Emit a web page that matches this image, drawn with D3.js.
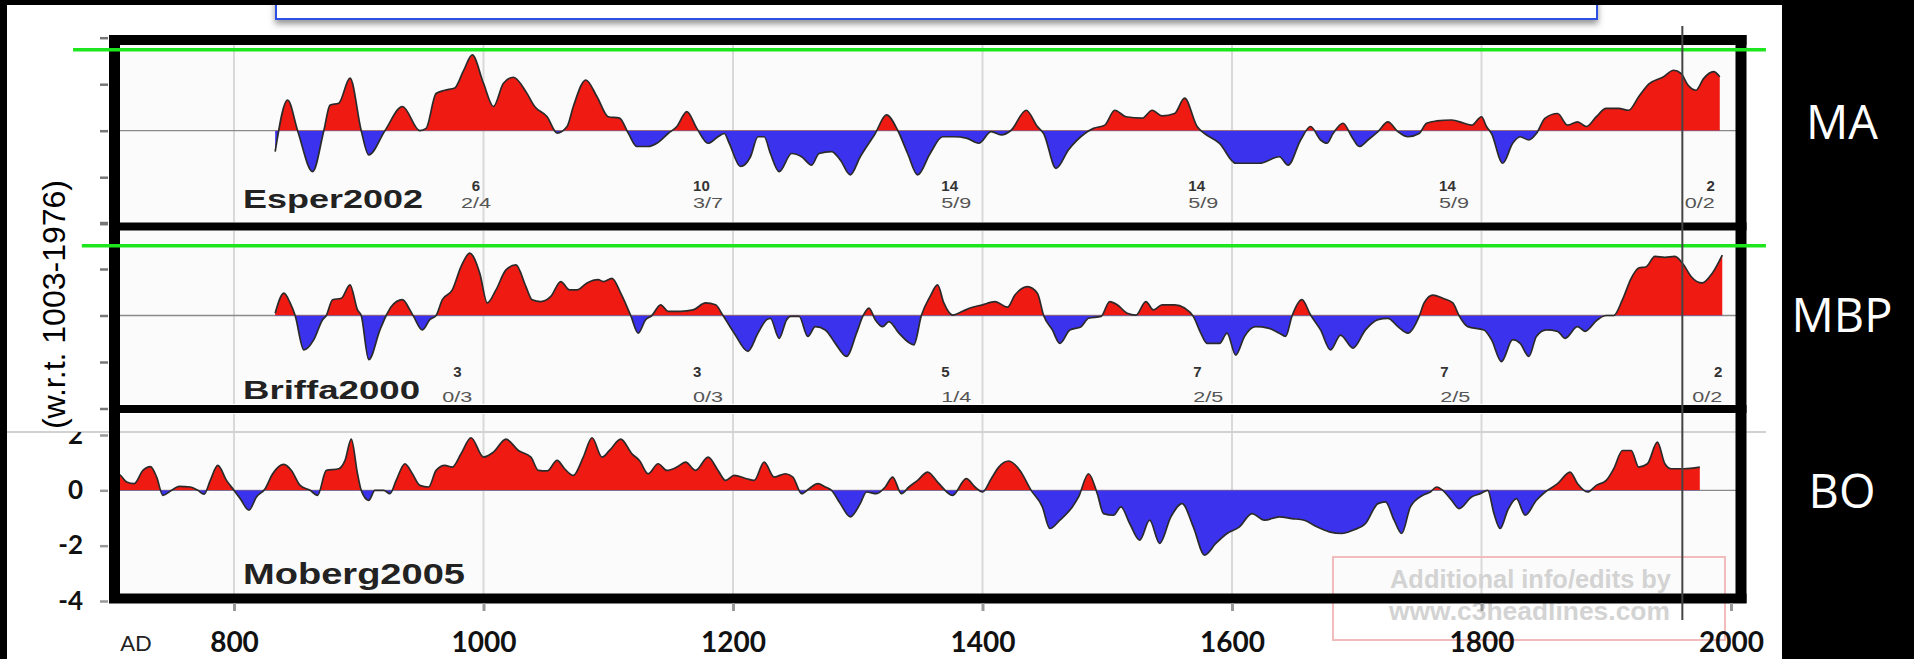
<!DOCTYPE html>
<html>
<head>
<meta charset="utf-8">
<script src="https://cdnjs.cloudflare.com/ajax/libs/d3/7.8.5/d3.min.js"></script>
<style>
  html, body { margin: 0; padding: 0; background: #000; }
  svg { display: block; }
</style>
</head>
<body>
<svg id="chart"></svg>
<script>
// ---- data: [year, anomaly] ----
var esper2002 = [
  [833,-0.45],[843,0.66],[851,0],[863,-0.88],[872,0],[877,0.55],[884,0.59],[893,1.13],[902,0],[908,-0.52],
  [921,0],[935,0.52],[949,0],[954,0.05],[962,0.8],[969,0.87],[977,0.92],[984,1.29],[991,1.63],[1000,1.02],
  [1008,0.52],[1016,1.02],[1024,1.15],[1034,0.84],[1041,0.52],[1051,0.3],[1059,-0.05],[1067,0.09],[1072,0.52],
  [1082,1.09],[1091,0.73],[1100,0.3],[1109,0.27],[1116,-0.05],[1123,-0.34],[1132,-0.34],[1139,-0.27],[1148,-0.06],
  [1155,0.09],[1163,0.41],[1171,0.05],[1180,-0.27],[1188,-0.13],[1193,-0.06],[1197,-0.27],[1206,-0.77],[1214,-0.56],
  [1220,-0.13],[1225,-0.13],[1230,-0.49],[1237,-0.88],[1247,-0.49],[1255,-0.56],[1263,-0.74],[1269,-0.49],[1279,-0.45],
  [1286,-0.63],[1294,-0.95],[1302,-0.56],[1314,-0.06],[1323,0.34],[1332,0.01],[1340,-0.49],[1348,-0.95],[1358,-0.49],
  [1368,-0.13],[1377,-0.13],[1387,-0.16],[1397,-0.27],[1407,-0.02],[1415,-0.09],[1423,0.01],[1435,0.44],[1444,0.09],
  [1449,-0.06],[1459,-0.81],[1469,-0.41],[1482,-0.06],[1489,0.05],[1498,0.12],[1506,0.44],[1515,0.3],[1528,0.27],
  [1536,0.44],[1544,0.32],[1554,0.37],[1562,0.7],[1572,0.09],[1578,-0.06],[1590,-0.27],[1603,-0.7],[1622,-0.7],
  [1638,-0.56],[1645,-0.74],[1655,-0.2],[1663,0.09],[1671,-0.2],[1676,-0.27],[1681,-0.06],[1689,0.16],[1696,-0.13],
  [1702,-0.34],[1709,-0.2],[1717,-0.02],[1725,0.19],[1733,-0.02],[1741,-0.13],[1750,-0.06],[1756,0.16],[1764,0.21],
  [1776,0.23],[1786,0.16],[1792,0.12],[1800,0.3],[1804,0.09],[1808,-0.06],[1817,-0.7],[1825,-0.27],[1831,-0.13],
  [1838,-0.2],[1844,-0.06],[1851,0.27],[1861,0.37],[1869,0.12],[1877,0.19],[1884,0.09],[1892,0.3],[1900,0.48],
  [1910,0.48],[1918,0.44],[1926,0.73],[1934,1.0],[1946,1.16],[1954,1.3],[1960,1.23],[1965,1.0],[1972,0.87],
  [1978,1.12],[1986,1.27],[1991,1.16]
];

var briffa2000 = [
  [833,0.05],[840,0.48],[845,0.27],[849,0],[856,-0.74],[864,-0.52],[871,-0.09],[874,0],[879,0.34],[886,0.37],
  [893,0.66],[899,0.12],[902,0],[908,-0.95],[917,-0.31],[922,0],[926,0.19],[935,0.34],[941,0.12],[944,-0.02],
  [951,-0.31],[957,-0.09],[962,0],[967,0.34],[975,0.55],[982,1.05],[989,1.34],[997,0.91],[1003,0.27],[1010,0.55],
  [1018,0.98],[1026,1.09],[1034,0.62],[1039,0.34],[1046,0.3],[1054,0.41],[1062,0.73],[1069,0.55],[1075,0.55],
  [1083,0.7],[1092,0.77],[1096,0.73],[1103,0.8],[1110,0.48],[1118,0],[1124,-0.38],[1130,-0.09],[1135,0],
  [1142,0.23],[1148,0.09],[1158,0.09],[1168,0.12],[1178,0.27],[1186,0.23],[1192,0],[1201,-0.38],[1212,-0.77],
  [1220,-0.38],[1227,-0.09],[1230,-0.06],[1237,-0.49],[1243,-0.09],[1246,-0.02],[1253,-0.02],[1260,-0.45],
  [1266,-0.24],[1274,-0.31],[1282,-0.6],[1291,-0.88],[1299,-0.38],[1304,-0.02],[1309,0.16],[1314,-0.09],
  [1320,-0.24],[1325,-0.13],[1333,-0.38],[1345,-0.63],[1351,0],[1358,0.41],[1364,0.66],[1369,0.27],[1376,0.01],
  [1384,0.09],[1390,0.16],[1400,0.23],[1410,0.3],[1420,0.18],[1426,0.44],[1436,0.62],[1444,0.48],[1449,0],
  [1456,-0.31],[1462,-0.6],[1470,-0.31],[1479,-0.24],[1485,-0.06],[1495,-0.02],[1502,0.3],[1508,0.23],[1516,0.05],
  [1523,0.01],[1531,0.3],[1537,0.12],[1544,0.23],[1554,0.23],[1562,0.16],[1569,-0.02],[1575,-0.38],[1580,-0.6],
  [1590,-0.6],[1596,-0.38],[1603,-0.85],[1610,-0.45],[1619,-0.24],[1629,-0.27],[1638,-0.38],[1643,-0.45],
  [1648,-0.02],[1656,0.34],[1663,0.01],[1671,-0.31],[1679,-0.74],[1687,-0.42],[1697,-0.7],[1707,-0.31],
  [1717,-0.09],[1725,-0.06],[1733,-0.24],[1741,-0.38],[1750,-0.02],[1754,0.27],[1761,0.44],[1769,0.37],
  [1777,0.27],[1782,0],[1789,-0.24],[1802,-0.31],[1808,-0.52],[1816,-0.99],[1825,-0.52],[1831,-0.6],[1838,-0.88],
  [1844,-0.45],[1852,-0.31],[1861,-0.34],[1867,-0.49],[1877,-0.24],[1883,-0.34],[1893,-0.09],[1900,0],[1906,0],
  [1913,0.34],[1920,0.8],[1926,1.02],[1932,1.05],[1939,1.27],[1947,1.25],[1955,1.27],[1962,1.09],[1968,0.84],
  [1977,0.7],[1985,0.91],[1993,1.3]
];

var moberg2005 = [
  [704,0.65],[709,0.54],[714,0.3],[720,0.24],[727,0.72],[733,0.86],[738,0.48],[743,-0.18],[750,0],[756,0.14],
  [765,0.12],[771,0],[776,-0.14],[781,0.36],[787,0.9],[794,0.36],[800,0],[805,-0.3],[812,-0.72],[818,-0.24],
  [825,0.06],[831,0.6],[840,0.94],[846,0.72],[853,0.18],[861,0],[867,-0.18],[874,0.72],[884,0.78],[889,1.08],
  [894,1.85],[899,0.6],[902,0],[908,-0.36],[913,0],[920,0],[925,-0.12],[930,0.36],[937,0.96],[943,0.6],
  [949,0.18],[956,0.12],[962,0.72],[969,0.9],[975,0.84],[982,1.32],[990,1.9],[1000,1.2],[1008,1.38],[1018,1.85],
  [1028,1.44],[1038,1.2],[1044,0.72],[1051,0.7],[1059,1.08],[1065,0.78],[1072,0.54],[1080,1.2],[1087,1.9],
  [1095,1.2],[1101,1.44],[1110,1.85],[1119,1.32],[1125,1.08],[1132,0.6],[1140,0.96],[1147,0.72],[1155,0.84],
  [1162,1.02],[1170,0.72],[1180,1.2],[1188,0.72],[1194,0.36],[1201,0.54],[1211,0.42],[1217,0.36],[1225,1.02],
  [1233,0.48],[1242,0.6],[1248,0.48],[1255,-0.12],[1261,0.06],[1268,0.24],[1274,0.12],[1279,0],[1286,-0.48],
  [1294,-0.96],[1302,-0.48],[1307,-0.06],[1315,-0.12],[1322,0.12],[1328,0.48],[1335,-0.12],[1341,0.12],
  [1348,0.36],[1356,0.66],[1364,0.3],[1376,-0.18],[1387,0.42],[1394,0.12],[1400,-0.06],[1407,0.42],[1413,0.84],
  [1421,1.06],[1430,0.72],[1439,0],[1448,-0.6],[1454,-1.38],[1462,-1.08],[1472,-0.6],[1477,-0.24],[1485,0.6],
  [1492,-0.12],[1497,-0.84],[1505,-0.9],[1511,-0.6],[1518,-1.2],[1526,-1.8],[1534,-1.08],[1542,-1.92],
  [1551,-0.96],[1560,-0.48],[1569,-1.32],[1578,-2.34],[1587,-1.92],[1596,-1.56],[1606,-1.32],[1616,-0.84],
  [1626,-1.08],[1638,-0.96],[1648,-1.02],[1658,-1.08],[1668,-1.32],[1678,-1.5],[1688,-1.56],[1697,-1.44],
  [1707,-1.2],[1717,-0.48],[1723,-0.42],[1730,-1.08],[1736,-1.56],[1743,-0.6],[1753,-0.18],[1759,-0.06],
  [1764,0.12],[1769,0],[1776,-0.36],[1782,-0.66],[1792,-0.24],[1799,-0.12],[1805,0],[1810,-0.84],[1815,-1.38],
  [1821,-0.72],[1828,-0.3],[1835,-0.9],[1844,-0.36],[1851,-0.06],[1861,0.24],[1871,0.66],[1877,0.24],
  [1885,-0.06],[1892,0.18],[1900,0.36],[1906,0.78],[1913,1.44],[1920,1.44],[1926,0.84],[1933,0.96],
  [1941,1.74],[1947,0.96],[1952,0.78],[1962,0.78],[1975,0.84]
];

var xTickYears = [800, 1000, 1200, 1400, 1600, 1800, 2000];
var gridYears = [800, 1000, 1200, 1400, 1600, 1800];
var panelTicks = [-2, -1, 0, 1, 2];
var mobergTicks = [-4, -2, 0, 2];

var esperCounts = ["6", "10", "14", "14", "14", "2"];
var esperFracs = ["2/4", "3/7", "5/9", "5/9", "5/9", "0/2"];
var esperLabelYears = [982, 1168, 1367, 1565, 1766, 1963];
var briffaCounts = ["3", "3", "5", "7", "7", "2"];
var briffaFracs = ["0/3", "0/3", "1/4", "2/5", "2/5", "0/2"];
var briffaLabelYears = [967, 1168, 1367, 1569, 1767, 1969];

var regionLabels = ["MA", "MBP", "BO"];
var greenLevels = [1.74, 1.5];     // hand-drawn reference lines, panel units
var greenStartYears = [671, 678];
var greenEndYear = 2028;
var markerYear = 1961;

var RED = "#ef1a12", BLUE = "#3b32ee";

// ---- layout ----
var W = 1914, H = 659;
var svg = d3.select("#chart").attr("width", W).attr("height", H)
  .style("font-family", "'Liberation Sans', Arial, sans-serif");

var defs = svg.append("defs");
var shadow = defs.append("filter").attr("id", "shadow").attr("x", "-5%").attr("y", "-50%")
  .attr("width", "110%").attr("height", "250%");
shadow.append("feDropShadow").attr("dx", 0).attr("dy", 4).attr("stdDeviation", 3)
  .attr("flood-color", "#666").attr("flood-opacity", 0.7);

var x = d3.scaleLinear().domain([700, 2000]).range([109.25, 1731]);

var innerLeft = 120, innerRight = 1736;

var panels = [
  { name: "Esper2002", data: esper2002, y: d3.scaleLinear().domain([-2, 2]).range([223.7, 37.7]),
    top: 44, bottom: 222, labelBase: 208, labelLen: 180, labelSize: 26,
    counts: esperCounts, fracs: esperFracs, labelYears: esperLabelYears, countBase: 191, fracBase: 208 },
  { name: "Briffa2000", data: briffa2000, y: d3.scaleLinear().domain([-2, 2]).range([408.5, 222.5]),
    top: 231, bottom: 404, labelBase: 399, labelLen: 177, labelSize: 26,
    counts: briffaCounts, fracs: briffaFracs, labelYears: briffaLabelYears, countBase: 377, fracBase: 402 },
  { name: "Moberg2005", data: moberg2005, y: d3.scaleLinear().domain([-4, 2]).range([601, 435]),
    top: 414, bottom: 594, labelBase: 584, labelLen: 222, labelSize: 29 }
];

// background
svg.append("rect").attr("width", W).attr("height", H).attr("fill", "#000");
svg.append("rect").attr("x", 7).attr("y", 5).attr("width", 1775).attr("height", H - 5).attr("fill", "#fff");

// empty title box at top
svg.append("rect").attr("x", 276).attr("y", -6).attr("width", 1321).attr("height", 25)
  .attr("fill", "#fff").attr("stroke", "#2f4fe6").attr("stroke-width", 2)
  .attr("filter", "url(#shadow)");
svg.append("rect").attr("width", W).attr("height", 5).attr("fill", "#000");

// rotated y-axis label, hidden below the pasted lower panel
defs.append("clipPath").attr("id", "clip-ylabel")
  .append("rect").attr("x", 0).attr("y", 0).attr("width", 110).attr("height", 432);
svg.append("g").attr("clip-path", "url(#clip-ylabel)")
  .append("text")
  .attr("transform", "translate(65,180) rotate(-90)")
  .attr("text-anchor", "end")
  .attr("font-size", 32)
  .attr("fill", "#000")
  .text("(w.r.t. 1003-1976)");

function drawPanel(p, i) {
  var g = svg.append("g");
  var y = p.y;
  var y0 = y(0);

  defs.append("clipPath").attr("id", "clip-in-" + i).append("rect")
    .attr("x", innerLeft).attr("y", p.top).attr("width", innerRight - innerLeft).attr("height", p.bottom - p.top);
  defs.append("clipPath").attr("id", "clip-up-" + i).append("rect")
    .attr("x", innerLeft).attr("y", p.top).attr("width", innerRight - innerLeft).attr("height", y0 - p.top);
  defs.append("clipPath").attr("id", "clip-dn-" + i).append("rect")
    .attr("x", innerLeft).attr("y", y0).attr("width", innerRight - innerLeft).attr("height", p.bottom - y0);

  g.append("rect").attr("x", innerLeft).attr("y", p.top)
    .attr("width", innerRight - innerLeft).attr("height", p.bottom - p.top).attr("fill", "#fbfbfb");

  var inner = g.append("g").attr("clip-path", "url(#clip-in-" + i + ")");

  inner.selectAll(".grid").data(gridYears).enter().append("line")
    .attr("x1", d => x(d)).attr("x2", d => x(d))
    .attr("y1", p.top).attr("y2", p.bottom)
    .attr("stroke", "#d9d9d9").attr("stroke-width", 2);

  inner.append("line").attr("x1", innerLeft).attr("x2", innerRight)
    .attr("y1", y0).attr("y2", y0).attr("stroke", "#8a8a8a").attr("stroke-width", 1.3);

  var area = d3.area().x(d => x(d[0])).y0(y0).y1(d => y(d[1])).curve(d3.curveMonotoneX);
  var line = d3.line().x(d => x(d[0])).y(d => y(d[1])).curve(d3.curveMonotoneX);

  inner.append("path").datum(p.data).attr("d", area).attr("fill", RED)
    .attr("clip-path", "url(#clip-up-" + i + ")");
  inner.append("path").datum(p.data).attr("d", area).attr("fill", BLUE)
    .attr("clip-path", "url(#clip-dn-" + i + ")");
  inner.append("path").datum(p.data).attr("d", line).attr("fill", "none")
    .attr("stroke", "#2b2b2b").attr("stroke-width", 1.7).attr("stroke-linejoin", "round");

  g.append("text").attr("x", 243).attr("y", p.labelBase)
    .attr("font-size", p.labelSize).attr("font-weight", "bold").attr("fill", "#222")
    .attr("textLength", p.labelLen).attr("lengthAdjust", "spacingAndGlyphs")
    .text(p.name);

  if (p.counts) {
    p.labelYears.forEach(function(yr, j) {
      var fx = x(yr);
      g.append("text").attr("x", fx).attr("y", p.fracBase)
        .attr("font-size", 15).attr("fill", "#555")
        .attr("textLength", 30).attr("lengthAdjust", "spacingAndGlyphs")
        .text(p.fracs[j]);
      var fw = 30;
      var cx = fx, anchor = "start";
      if (j === 0) { cx = fx + fw / 2; anchor = "middle"; }
      if (j === p.labelYears.length - 1) { cx = fx + fw; anchor = "end"; }
      g.append("text").attr("x", cx).attr("y", p.countBase)
        .attr("text-anchor", anchor).attr("font-size", 15).attr("font-weight", "bold")
        .attr("fill", "#333").text(p.counts[j]);
    });
  }
  return g;
}

drawPanel(panels[0], 0);
drawPanel(panels[1], 1);

// left ticks for the two upper panels
[0, 1].forEach(function(i) {
  var ax = svg.append("g").attr("transform", "translate(108,0)")
    .call(d3.axisLeft(panels[i].y).tickValues(panelTicks).tickSize(8).tickFormat(""));
  ax.select(".domain").remove();
  ax.selectAll("line").attr("stroke", "#777").attr("stroke-width", 2.5);
});

// lower panel comes from a pasted picture: its top edge shows as a faint line
svg.append("rect").attr("x", 7).attr("y", 432).attr("width", 1759).attr("height", H - 432)
  .attr("fill", "#fff");
drawPanel(panels[2], 2);
svg.append("line").attr("x1", 7).attr("x2", 1766).attr("y1", 432).attr("y2", 432)
  .attr("stroke", "#d2d2d2").attr("stroke-width", 2);

defs.append("clipPath").attr("id", "clip-low")
  .append("rect").attr("x", 0).attr("y", 432).attr("width", W).attr("height", H - 432);
var ax3 = svg.append("g").attr("clip-path", "url(#clip-low)")
  .append("g").attr("transform", "translate(108,0)")
  .call(d3.axisLeft(panels[2].y).tickValues(mobergTicks).tickSize(8).tickPadding(17)
    .tickFormat(d => String(d)));
ax3.select(".domain").remove();
ax3.selectAll("line").attr("stroke", "#999").attr("stroke-width", 2.5);
ax3.selectAll("text").attr("font-size", 26).attr("font-weight", "bold")
  .attr("font-family", "Lato, 'Open Sans', sans-serif").attr("fill", "#111");

// watermark
svg.append("rect").attr("x", 1333).attr("y", 557).attr("width", 392).attr("height", 83)
  .attr("fill", "none").attr("stroke", "#f3bcbc").attr("stroke-width", 2);
svg.append("text").attr("x", 1390).attr("y", 588).attr("font-size", 26).attr("font-weight", "bold")
  .attr("font-family", "'Liberation Sans Narrow', 'Liberation Sans', sans-serif")
  .attr("fill", "#d3d3d3").attr("textLength", 281).attr("lengthAdjust", "spacingAndGlyphs")
  .text("Additional info/edits by");
svg.append("text").attr("x", 1389).attr("y", 620).attr("font-size", 26).attr("font-weight", "bold")
  .attr("font-family", "'Liberation Sans Narrow', 'Liberation Sans', sans-serif")
  .attr("fill", "#d3d3d3").attr("textLength", 281).attr("lengthAdjust", "spacingAndGlyphs")
  .text("www.c3headlines.com");

// frames
var frame = svg.append("g").attr("stroke", "#000").attr("fill", "none");
frame.append("line").attr("x1", 114.5).attr("x2", 114.5).attr("y1", 35).attr("y2", 603).attr("stroke-width", 11);
frame.append("line").attr("x1", 1741).attr("x2", 1741).attr("y1", 35).attr("y2", 603).attr("stroke-width", 11);
[[40, 10], [226.5, 8], [409, 8], [598.5, 10]].forEach(function(h) {
  frame.append("line").attr("x1", 109).attr("x2", 1746.5).attr("y1", h[0]).attr("y2", h[0])
    .attr("stroke-width", h[1]);
});

// green reference lines
greenLevels.forEach(function(v, i) {
  var yy = panels[i].y(v);
  svg.append("line").attr("x1", x(greenStartYears[i])).attr("x2", x(greenEndYear))
    .attr("y1", yy).attr("y2", yy).attr("stroke", "#1ee61e").attr("stroke-width", 3.5);
});

// vertical marker
svg.append("line").attr("x1", x(markerYear)).attr("x2", x(markerYear))
  .attr("y1", 26).attr("y2", 620).attr("stroke", "#444").attr("stroke-width", 2);

// bottom axis
var xa = svg.append("g").attr("transform", "translate(0,603)")
  .call(d3.axisBottom(x).tickValues(xTickYears).tickSize(8).tickFormat(d3.format("d")));
xa.select(".domain").remove();
xa.selectAll("line").attr("stroke", "#999").attr("stroke-width", 3);
xa.selectAll("text").attr("y", 49).attr("dy", 0).attr("font-size", 28).attr("font-weight", "bold")
  .attr("font-family", "Lato, 'Open Sans', sans-serif").attr("fill", "#111");

svg.append("text").attr("x", 136).attr("y", 651).attr("text-anchor", "middle")
  .attr("font-size", 22).attr("font-family", "Lato, 'Open Sans', sans-serif").attr("fill", "#222")
  .text("AD");

// region labels on the right
var regionBase = [139, 332, 508];
svg.selectAll(".region").data(regionLabels).enter().append("text")
  .attr("x", 1842).attr("y", (d, i) => regionBase[i])
  .attr("text-anchor", "middle").attr("font-size", 47)
  .attr("font-family", "'Open Sans', sans-serif").attr("fill", "#fff")
  .text(d => d);
</script>
</body>
</html>
